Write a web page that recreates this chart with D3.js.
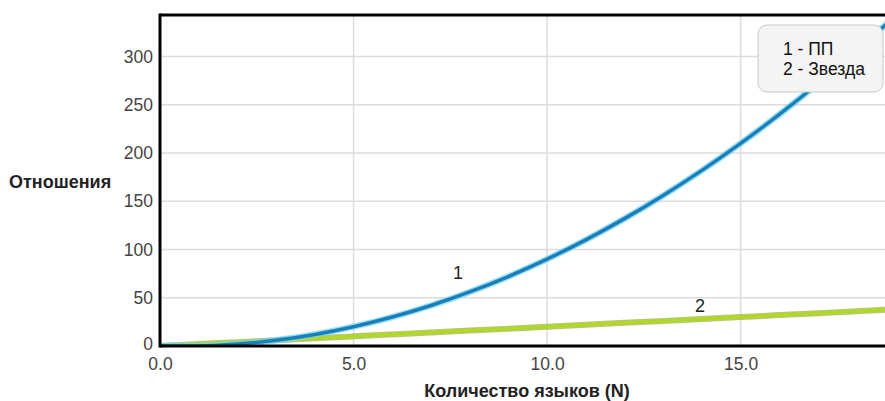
<!DOCTYPE html>
<html><head><meta charset="utf-8">
<script src="https://cdn.jsdelivr.net/npm/d3@7"></script>
<style>body{margin:0;background:#fff}svg{display:block}text{font-family:Arial,"Liberation Sans",sans-serif}</style>
</head><body><svg id="c" width="885" height="401"></svg>
<script>
const languages = [0,1,2,3,4,5,6,7,8,9,10,11,12,13,14,15,16,17,18,19];
const seriesPP = [0,0,2,6,12,20,30,42,56,72,90,110,132,156,182,210,240,272,306,342];
const seriesStar = [0,2,4,6,8,10,12,14,16,18,20,22,24,26,28,30,32,34,36,38];
const xTicks = [0,5,10,15];
const yTicks = [0,50,100,150,200,250,300];
const legendLines = ["1 - ПП","2 - Звезда"];

const svg = d3.select("#c");
const L=160, R=885, T=15, B=346;
const x = d3.scaleLinear().domain([0,18.73]).range([L,R]);
const y = d3.scaleLinear().domain([0,343]).range([B,T]);
const FONT = "Arial,'Liberation Sans',sans-serif";

// grid
svg.append("g").selectAll("line").data(yTicks.filter(d=>d>0)).join("line")
  .attr("x1",L).attr("x2",R).attr("y1",d=>y(d)).attr("y2",d=>y(d))
  .attr("stroke","#dcdcdc").attr("stroke-width",1.5);
svg.append("g").selectAll("line").data(xTicks.filter(d=>d>0)).join("line")
  .attr("y1",T).attr("y2",B).attr("x1",d=>x(d)).attr("x2",d=>x(d))
  .attr("stroke","#dcdcdc").attr("stroke-width",1.5);

// axes
const xa = svg.append("g").attr("transform",`translate(0,${B})`)
  .call(d3.axisBottom(x).tickValues(xTicks).tickFormat(d3.format(".1f")).tickSize(0).tickPadding(15));
const ya = svg.append("g").attr("transform",`translate(${L},0)`)
  .call(d3.axisLeft(y).tickValues(yTicks).tickSize(0).tickPadding(7));
[xa,ya].forEach(a=>{a.select(".domain").remove();
  a.selectAll("text").attr("font-size",17.5).attr("fill","#444").style("font-family",FONT);});
xa.selectAll("text").attr("dy","0.5em");
ya.selectAll("text").filter(d=>d===0).attr("dy","0.2em");

// curves
const line = d3.line().x((d,i)=>x(languages[i])).y(d=>y(d)).curve(d3.curveMonotoneX);
svg.append("clipPath").attr("id","cp").append("rect").attr("x",L).attr("y",T).attr("width",R-L).attr("height",B-T);
const g = svg.append("g").attr("clip-path","url(#cp)");
g.append("path").datum(seriesStar).attr("d",line).attr("fill","none").attr("stroke","#7fa51a").attr("stroke-width",6).attr("stroke-opacity",0.6);
g.append("path").datum(seriesStar).attr("d",line).attr("fill","none").attr("stroke","#b4d625").attr("stroke-width",3.5);
g.append("path").datum(seriesPP).attr("d",line).attr("fill","none").attr("stroke","#6fd3f5").attr("stroke-width",6.5).attr("stroke-opacity",0.7);
g.append("path").datum(seriesPP).attr("d",line).attr("fill","none").attr("stroke","#1a7fb8").attr("stroke-width",3.5);

// axis lines
svg.append("line").attr("x1",L).attr("x2",L).attr("y1",T-1.5).attr("y2",B+1.5).attr("stroke","#000").attr("stroke-width",3);
svg.append("line").attr("x1",L).attr("x2",R).attr("y1",B).attr("y2",B).attr("stroke","#000").attr("stroke-width",3);
svg.append("line").attr("x1",L).attr("x2",R).attr("y1",T).attr("y2",T).attr("stroke","#000").attr("stroke-width",3);

// curve labels
svg.append("text").attr("x",458).attr("y",279).attr("text-anchor","middle").attr("font-size",18).attr("fill","#222").text("1");
svg.append("text").attr("x",700).attr("y",312).attr("text-anchor","middle").attr("font-size",18).attr("fill","#222").text("2");

// titles
svg.append("text").attr("x",527).attr("y",397).attr("text-anchor","middle").attr("font-size",18).attr("font-weight","bold").attr("fill","#222").text("Количество языков (N)");
svg.append("text").attr("x",9).attr("y",188).attr("font-size",18).attr("font-weight","bold").attr("fill","#222").text("Отношения");

// legend
svg.append("rect").attr("x",758).attr("y",25).attr("width",125).attr("height",67).attr("rx",9)
  .attr("fill","#f4f4f4").attr("stroke","#c8c8c8").attr("stroke-width",1);
svg.append("g").selectAll("text").data(legendLines).join("text")
  .attr("x",783).attr("y",(d,i)=>55+i*20).attr("font-size",17.5).attr("fill","#111").text(d=>d);
</script></body></html>
